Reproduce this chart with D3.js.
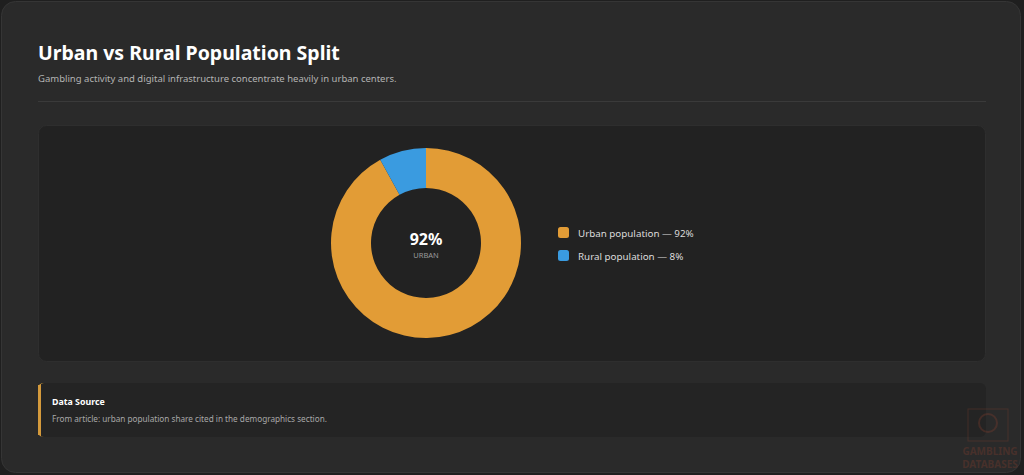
<!DOCTYPE html>
<html>
<head>
<meta charset="utf-8">
<script src="https://cdn.jsdelivr.net/npm/d3@7"></script>
<style>
  html, body { margin: 0; padding: 0; background: #1f1f1f; }
  svg { display: block; font-family: "Noto Sans", "Open Sans", sans-serif; }
</style>
</head>
<body>
<div id="chart"></div>
<script>
// data
const categories = ['Urban population', 'Rural population'];
const shares = [92, 8];
const colors = ['#e29c36', '#3a9be0'];
const centerLabel = 'URBAN';

const W = 1024, H = 475;

const svg = d3.select('#chart').append('svg')
  .attr('width', W)
  .attr('height', H);

// outer card
svg.append('rect')
  .attr('x', 1.5).attr('y', 1.5)
  .attr('width', W - 5).attr('height', H - 4)
  .attr('rx', 14)
  .attr('fill', '#2a2a2a')
  .attr('stroke', '#353535');

svg.append('text')
  .attr('x', 38).attr('y', 60)
  .attr('fill', '#ffffff')
  .attr('font-size', 19.5)
  .attr('font-weight', 700)
  .text('Urban vs Rural Population Split');

svg.append('text')
  .attr('x', 38).attr('y', 82)
  .attr('fill', '#b4b4b4')
  .attr('font-size', 9.5)
  .text('Gambling activity and digital infrastructure concentrate heavily in urban centers.');

svg.append('line')
  .attr('x1', 38).attr('x2', 986)
  .attr('y1', 101.5).attr('y2', 101.5)
  .attr('stroke', '#3a3a3a');

// chart panel
svg.append('rect')
  .attr('x', 38.5).attr('y', 125.5)
  .attr('width', 947).attr('height', 236)
  .attr('rx', 8)
  .attr('fill', '#222222')
  .attr('stroke', '#2e2e2e');

const cx = 426, cy = 243;
const outerR = 95, innerR = 55;

const pie = d3.pie().sort(null).value(d => d.v);
const arc = d3.arc().innerRadius(innerR).outerRadius(outerR);
const data = categories.map((c, i) => ({name: c, v: shares[i], color: colors[i]}));

const donut = svg.append('g')
  .attr('transform', `translate(${cx} ${cy})`);

donut.selectAll('path')
  .data(pie(data))
  .join('path')
    .attr('d', arc)
    .attr('fill', d => d.data.color);

donut.append('text')
  .attr('text-anchor', 'middle')
  .attr('y', 2)
  .attr('fill', '#ffffff')
  .attr('font-size', 16)
  .attr('font-weight', 700)
  .text(shares[0] + '%');

donut.append('text')
  .attr('text-anchor', 'middle')
  .attr('y', 15)
  .attr('fill', '#9a9a9a')
  .attr('font-size', 7.5)
  .text(centerLabel);

// legend
const legend = svg.append('g')
  .attr('transform', 'translate(558 227)');

const rows = legend.selectAll('g')
  .data(data)
  .join('g')
    .attr('transform', (d, i) => `translate(0 ${i * 23})`);

rows.append('rect')
  .attr('width', 11).attr('height', 11)
  .attr('rx', 2.5)
  .attr('fill', d => d.color);

rows.append('text')
  .attr('x', 20).attr('y', 9.5)
  .attr('fill', '#dcdcdc')
  .attr('font-size', 9.8)
  .text(d => `${d.name} \u2014 ${d.v}%`);

// data source note
svg.append('rect')
  .attr('x', 38).attr('y', 383)
  .attr('width', 948).attr('height', 54)
  .attr('rx', 6)
  .attr('fill', '#242424');
svg.append('path')
  .attr('d', 'M44,383 Q38,383 38,389 L38,431 Q38,437 44,437 L41,437 L41,383 Z')
  .attr('fill', '#d49a3c');
svg.append('rect')
  .attr('x', 38).attr('y', 385)
  .attr('width', 2.5).attr('height', 50)
  .attr('fill', '#d49a3c');

svg.append('text')
  .attr('x', 52).attr('y', 405)
  .attr('fill', '#ffffff')
  .attr('font-size', 8.8)
  .attr('font-weight', 700)
  .text('Data Source');

svg.append('text')
  .attr('x', 52).attr('y', 422)
  .attr('fill', '#a8a8a8')
  .attr('font-size', 8.2)
  .text('From article: urban population share cited in the demographics section.');

// watermark
const wm = svg.append('g').attr('opacity', 0.25);
wm.append('rect')
  .attr('x', 968).attr('y', 409)
  .attr('width', 40).attr('height', 32)
  .attr('fill', 'none')
  .attr('stroke', '#a0442e');
wm.append('circle')
  .attr('cx', 988).attr('cy', 423).attr('r', 9)
  .attr('fill', 'none')
  .attr('stroke', '#a0442e')
  .attr('stroke-width', 2);
wm.append('text')
  .attr('x', 990).attr('y', 455)
  .attr('text-anchor', 'middle')
  .attr('fill', '#a0442e')
  .attr('font-size', 10)
  .attr('font-weight', 700)
  .text('GAMBLING');
wm.append('text')
  .attr('x', 990).attr('y', 468)
  .attr('text-anchor', 'middle')
  .attr('fill', '#a0442e')
  .attr('font-size', 10)
  .attr('font-weight', 700)
  .text('DATABASES');
</script>
</body>
</html>
